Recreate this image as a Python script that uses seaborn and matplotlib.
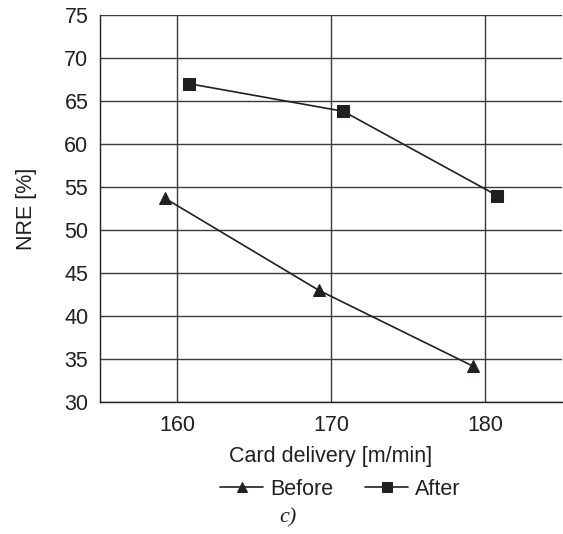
import matplotlib
matplotlib.use("Agg")
import matplotlib.pyplot as plt
import seaborn as sns
import pandas as pd

before_x = [159.2, 169.2, 179.2]
before_y = [53.7, 43.0, 34.2]
after_x = [160.8, 170.8, 180.8]
after_y = [67.0, 63.8, 54.0]
x_ticks = [160, 170, 180]
y_ticks = [30, 35, 40, 45, 50, 55, 60, 65, 70, 75]

df = pd.DataFrame({
    "x": before_x + after_x,
    "y": before_y + after_y,
    "series": ["Before"] * 3 + ["After"] * 3,
})

sns.set_style("white")
plt.rcParams["font.family"] = ["Liberation Sans", "DejaVu Sans"]
ink = "#231f20"
fs = 15.5

fig = plt.figure(figsize=(5.63, 5.34), dpi=100)
ax = fig.add_axes([0.178, 0.247, 0.82, 0.725])

sns.lineplot(data=df, x="x", y="y", hue="series", style="series",
             markers={"Before": "^", "After": "s"}, dashes=False,
             palette={"Before": ink, "After": ink}, markersize=9,
             linewidth=1.2, markeredgecolor=ink, ax=ax, sort=False)

ax.set_xlim(155, 185)
ax.set_ylim(30, 75)
ax.set_xticks(x_ticks)
ax.set_yticks(y_ticks)
ax.grid(True, color="#3a3a3a", linewidth=1.0)
ax.set_axisbelow(True)
for s in ["top", "right"]:
    ax.spines[s].set_visible(False)
for s in ["left", "bottom"]:
    ax.spines[s].set_color(ink)
    ax.spines[s].set_linewidth(1.0)
ax.tick_params(axis="both", direction="out", length=4.5, width=1.0, color=ink,
               labelsize=fs, labelcolor=ink, pad=4)
ax.tick_params(axis="x", pad=5)
ax.set_xlabel("Card delivery [m/min]", fontsize=fs, color=ink, labelpad=7)
ax.set_ylabel("NRE [%]", fontsize=fs, color=ink, labelpad=20)

handles, labels = ax.get_legend_handles_labels()
ax.legend(handles, labels, loc="upper center", bbox_to_anchor=(0.52, -0.159),
          ncol=2, frameon=False, fontsize=fs, handlelength=2.0,
          columnspacing=1.5, handletextpad=0.3, labelcolor=ink,
          borderpad=0.2, markerscale=0.8)

fig.text(0.511, 0.022, "c)", fontsize=16, style="italic",
         family=["Liberation Serif", "DejaVu Serif"], color=ink, ha="center")

fig.savefig("out.png", dpi=100, facecolor="white")
